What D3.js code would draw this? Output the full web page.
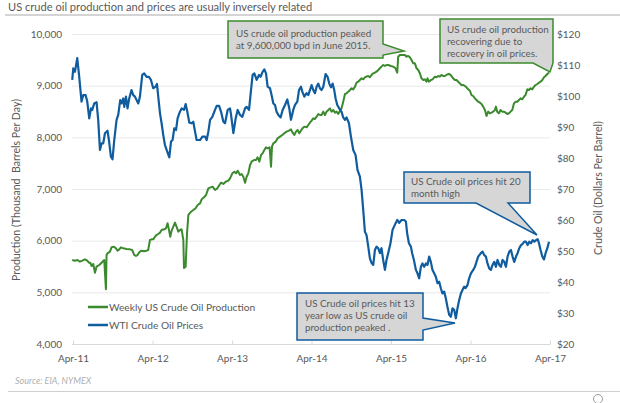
<!DOCTYPE html>
<html><head><meta charset="utf-8">
<script src="https://cdn.jsdelivr.net/npm/d3@7"></script>
<style>
html,body{margin:0;padding:0;background:#fff;}
svg{display:block;font-family:Lato,"Open Sans",sans-serif;}
</style></head>
<body><svg id="c" width="620" height="403"></svg>
<script>
// ---------- DATA (dates as decimal years) ----------
const priceDates = [
2011.237,2011.250,2011.271,2011.300,2011.325,2011.354,2011.376,2011.405,2011.426,2011.451,
2011.473,2011.489,2011.514,2011.543,2011.564,2011.586,2011.606,2011.627,2011.649,2011.681,
2011.699,2011.724,2011.744,2011.766,2011.795,2011.816,2011.841,2011.858,2011.879,2011.892,
2011.913,2011.933,2011.954,2011.983,2012.005,2012.026,2012.068,2012.089,2012.118,2012.143,
2012.172,2012.202,2012.227,2012.256,2012.285,2012.303,2012.319,2012.341,2012.361,2012.382,
2012.403,2012.424,2012.458,2012.479,2012.499,2012.520,2012.542,2012.562,2012.583,2012.612,
2012.642,2012.663,2012.684,2012.709,2012.738,2012.759,2012.781,2012.801,2012.844,2012.873,
2012.907,2012.927,2012.948,2012.970,2012.998,2013.032,2013.053,2013.083,2013.108,2013.137,
2013.158,2013.191,2013.221,2013.234,2013.263,2013.292,2013.317,2013.347,2013.376,2013.410,
2013.430,2013.460,2013.485,2013.505,2013.527,2013.556,2013.586,2013.606,2013.631,2013.653,
2013.674,2013.694,2013.724,2013.744,2013.766,2013.787,2013.807,2013.829,2013.858,2013.883,
2013.913,2013.942,2013.967,2013.988,2014.017,2014.039,2014.068,2014.089,2014.114,2014.131,
2014.156,2014.185,2014.206,2014.227,2014.248,2014.269,2014.290,2014.311,2014.332,2014.353,
2014.373,2014.395,2014.424,2014.449,2014.470,2014.492,2014.512,2014.533,2014.550,2014.571,
2014.596,2014.625,2014.646,2014.668,2014.688,2014.718,2014.743,2014.772,2014.801,2014.826,
2014.856,2014.877,2014.898,2014.919,2014.939,2014.961,2014.982,2015.002,2015.024,2015.045,
2015.065,2015.087,2015.108,2015.128,2015.149,2015.171,2015.191,2015.212,2015.241,2015.267,
2015.304,2015.326,2015.351,2015.380,2015.414,2015.435,2015.451,2015.473,2015.498,2015.514,
2015.536,2015.561,2015.581,2015.602,2015.624,2015.644,2015.665,2015.687,2015.707,2015.728,
2015.749,2015.770,2015.791,2015.812,2015.833,2015.854,2015.875,2015.895,2015.917,2015.938,
2015.958,2015.980,2016.001,2016.021,2016.043,2016.064,2016.084,2016.106,2016.127,2016.147,
2016.168,2016.185,2016.210,2016.231,2016.253,2016.282,2016.303,2016.323,2016.344,2016.378,
2016.399,2016.420,2016.441,2016.461,2016.483,2016.504,2016.524,2016.546,2016.567,2016.587,
2016.609,2016.630,2016.650,2016.672,2016.693,2016.713,2016.735,2016.756,2016.776,2016.797,
2016.819,2016.839,2016.860,2016.882,2016.902,2016.923,2016.944,2016.965,2016.986,2017.007,
2017.028,2017.049,2017.070,2017.091,2017.108,2017.128,2017.150,2017.171,2017.191,2017.213,
2017.234];
const priceValues = [
105.2,108.9,107.8,112.2,106.2,98.2,100.3,100.3,98.2,92.8,
96.0,95.5,97.6,98.0,92.3,82.6,84.7,84.7,88.0,88.8,
85.8,80.4,79.6,85.8,92.3,93.9,98.7,97.6,99.2,96.5,
99.8,96.0,99.2,101.9,100.3,99.8,97.6,99.8,106.8,107.3,
106.2,106.2,105.2,102.5,103.0,103.9,99.8,94.4,91.2,87.4,
84.2,82.6,80.2,85.3,85.8,89.6,89.0,92.8,94.4,96.0,
95.5,97.4,94.9,91.4,91.2,91.7,88.5,85.8,85.8,86.9,
86.9,85.8,88.5,92.3,93.3,95.5,96.8,96.8,94.9,91.7,
91.2,95.5,96.0,93.9,88.0,92.8,95.5,93.9,93.3,96.0,
96.5,95.5,101.9,106.8,107.3,105.2,106.8,106.2,107.8,108.6,
107.3,103.0,102.5,100.3,97.6,97.1,94.9,93.9,93.1,95.5,
97.1,98.9,96.0,92.3,95.5,97.1,98.2,101.9,103.0,101.4,
99.8,100.9,100.3,101.9,103.5,101.9,100.9,103.0,104.0,102.5,
101.9,103.0,107.1,106.2,104.0,102.8,104.0,101.9,99.2,97.1,
96.0,94.9,93.1,92.3,93.1,91.2,86.9,82.6,81.0,76.1,
74.0,69.7,63.2,56.2,55.2,51.4,47.6,46.2,45.5,50.3,
51.4,50.9,49.3,50.9,47.1,43.9,47.1,49.3,52.5,56.8,
58.9,60.0,59.1,60.0,60.0,59.5,55.7,52.5,51.4,49.3,
47.1,43.9,42.8,41.2,44.9,46.0,44.9,46.0,45.5,48.2,
46.5,43.9,42.8,41.7,39.6,40.1,38.0,36.3,36.9,34.7,
32.0,29.4,28.8,31.5,31.0,28.3,31.5,34.2,36.3,37.4,
38.5,38.0,39.0,41.2,42.8,43.9,44.9,46.5,48.2,49.3,
49.8,48.7,48.2,46.0,44.4,43.9,45.5,46.5,44.9,47.1,
45.5,44.9,47.1,46.5,44.9,48.2,49.8,50.3,48.2,46.5,
48.2,49.3,50.9,51.9,52.3,53.0,53.0,51.9,53.0,52.5,
53.5,53.0,53.5,53.8,52.5,50.3,48.2,47.3,49.3,50.9,
53.0];

const prodDates = [
2011.237,2011.271,2011.304,2011.334,2011.363,2011.397,2011.426,2011.447,2011.464,2011.480,
2011.502,2011.523,2011.543,2011.577,2011.606,2011.627,2011.640,2011.661,2011.669,2011.681,
2011.712,2011.732,2011.762,2011.787,2011.807,2011.829,2011.850,2011.879,2011.920,2011.963,
2011.992,2012.017,2012.039,2012.059,2012.080,2012.109,2012.139,2012.172,2012.193,2012.215,
2012.235,2012.256,2012.278,2012.298,2012.319,2012.341,2012.361,2012.395,2012.416,2012.436,
2012.454,2012.470,2012.487,2012.508,2012.529,2012.549,2012.571,2012.592,2012.612,2012.634,
2012.642,2012.663,2012.680,2012.697,2012.731,2012.759,2012.788,2012.814,2012.844,2012.864,
2012.894,2012.919,2012.948,2012.977,2013.002,2013.032,2013.061,2013.087,2013.108,2013.137,
2013.166,2013.200,2013.221,2013.250,2013.275,2013.297,2013.317,2013.347,2013.367,2013.388,
2013.410,2013.430,2013.451,2013.473,2013.493,2013.523,2013.548,2013.568,2013.590,2013.611,
2013.631,2013.653,2013.674,2013.694,2013.719,2013.737,2013.749,2013.766,2013.795,2013.820,
2013.850,2013.879,2013.904,2013.933,2013.963,2013.988,2014.009,2014.030,2014.051,2014.071,
2014.093,2014.114,2014.134,2014.156,2014.185,2014.206,2014.227,2014.248,2014.269,2014.290,
2014.311,2014.332,2014.353,2014.373,2014.395,2014.416,2014.436,2014.458,2014.479,2014.499,
2014.521,2014.542,2014.562,2014.583,2014.605,2014.625,2014.646,2014.668,2014.688,2014.709,
2014.731,2014.751,2014.772,2014.794,2014.814,2014.835,2014.856,2014.877,2014.898,2014.919,
2014.939,2014.961,2014.982,2015.002,2015.024,2015.045,2015.065,2015.087,2015.108,2015.128,
2015.149,2015.171,2015.191,2015.212,2015.246,2015.275,2015.304,2015.326,2015.338,2015.359,
2015.380,2015.401,2015.422,2015.443,2015.464,2015.485,2015.506,2015.527,2015.548,2015.569,
2015.590,2015.611,2015.631,2015.653,2015.674,2015.694,2015.707,2015.724,2015.750,2015.770,
2015.800,2015.820,2015.841,2015.863,2015.883,2015.904,2015.926,2015.946,2015.967,2015.988,
2016.009,2016.030,2016.051,2016.072,2016.093,2016.114,2016.134,2016.156,2016.177,2016.197,
2016.219,2016.240,2016.260,2016.282,2016.303,2016.323,2016.344,2016.366,2016.386,2016.407,
2016.429,2016.449,2016.470,2016.491,2016.512,2016.533,2016.554,2016.567,2016.583,2016.605,
2016.625,2016.646,2016.668,2016.688,2016.709,2016.731,2016.751,2016.772,2016.794,2016.814,
2016.835,2016.856,2016.876,2016.898,2016.919,2016.939,2016.961,2016.982,2017.002,2017.024,
2017.045,2017.066,2017.087,2017.108,2017.128,2017.150,2017.171,2017.191,2017.213,2017.234];
const prodValues = [
5626,5613,5626,5593,5613,5639,5613,5574,5574,5510,
5548,5380,5497,5529,5574,5606,5626,5059,5723,5755,
5787,5871,5884,5852,5806,5832,5871,5852,5839,5832,
5819,5723,5703,5723,5775,5806,5794,5806,5819,6013,
6026,6026,6077,6110,6129,6155,6206,6220,6239,6336,
6206,6077,6194,6271,6349,6271,6174,6206,6220,6013,
5470,5497,6142,6497,6561,6594,6626,6690,6723,6800,
6839,6884,7013,7032,7045,6981,7013,7077,7122,7097,
7141,7161,7207,7303,7335,7303,7354,7271,7290,7238,
7122,7238,7303,7464,7529,7561,7561,7614,7529,7658,
7690,7755,7807,7787,7807,7432,7819,7884,7916,7981,
8013,8045,8078,8110,8129,8155,8090,8045,8110,8142,
8078,8129,8175,8207,8194,8239,8284,8323,8368,8355,
8400,8452,8432,8432,8497,8432,8497,8529,8561,8497,
8529,8478,8497,8452,8516,8561,8690,8839,8852,8884,
8916,8949,8929,8981,9058,9077,9110,9142,9123,9162,
9174,9187,9162,9207,9239,9252,9271,9303,9336,9368,
9400,9381,9400,9400,9381,9368,9336,9252,9561,9594,
9594,9594,9594,9561,9574,9549,9497,9432,9432,9336,
9303,9239,9142,9110,9123,9077,9142,9077,9110,9123,
9174,9162,9187,9174,9207,9187,9187,9207,9226,9220,
9187,9142,9110,9110,9077,9045,9013,9013,8994,8968,
8929,8903,8819,8800,8755,8723,8690,8671,8645,8594,
8529,8413,8497,8465,8478,8497,8529,8594,8497,8465,
8529,8497,8497,8478,8452,8465,8497,8529,8658,8690,
8690,8723,8755,8736,8787,8819,8929,8916,8949,8929,
8981,9013,9032,9058,9077,9110,9162,9187,9226,9252];

const xTickYears = [2011,2012,2013,2014,2015,2016,2017];
const xTickLabels = ["Apr-11","Apr-12","Apr-13","Apr-14","Apr-15","Apr-16","Apr-17"];
const prodTicks = [4000,5000,6000,7000,8000,9000,10000];
const priceTicks = [20,30,40,50,60,70,80,90,100,110,120];
const seriesNames = ["Weekly US Crude Oil Production","WTI Crude Oil Prices"];

// ---------- DRAWING ----------
const GREEN = "#3b8a2e", BLUE = "#0f5c9f", TXT = "#595959";
const svg = d3.select("#c");
const decToDate = t => {
  const y = Math.floor(t), s = Date.UTC(y,0,1), e = Date.UTC(y+1,0,1);
  return new Date(s + (t - y) * (e - s));
};
const L = 72, R = 550, T = 34, B = 344;
const x = d3.scaleUtc().domain([new Date(Date.UTC(2011,3,1)), new Date(Date.UTC(2017,3,1))]).range([73, 550]);
const yP = d3.scaleLinear().domain([4000,10000]).range([B, T]);
const y$ = d3.scaleLinear().domain([20,120]).range([B, T]);

// title
svg.append("text").attr("x",8).attr("y",11).attr("font-size",11.1).attr("fill",TXT)
  .text("US crude oil production and prices are usually inversely related");
svg.append("line").attr("x1",5).attr("x2",620).attr("y1",15).attr("y2",15)
  .attr("stroke","#d4d4d4").attr("stroke-width",2);

// gridlines
svg.append("g").selectAll("line").data(prodTicks.slice(1)).join("line")
  .attr("x1",L).attr("x2",R).attr("y1",d=>yP(d)+0.5).attr("y2",d=>yP(d)+0.5)
  .attr("stroke","#e9e9e9").attr("stroke-width",1);

// x axis
const xTicks = xTickYears.map(yy => new Date(Date.UTC(yy,3,1)));
const xAxis = d3.axisBottom(x).tickValues(xTicks).tickSize(-4).tickPadding(10)
  .tickFormat((d,i)=>xTickLabels[i]);
const gx = svg.append("g").attr("transform",`translate(0,${B+0.5})`).call(xAxis);
gx.select(".domain").attr("d",`M${L},0H${R}`).attr("stroke","#d9d9d9");
gx.selectAll(".tick line").attr("stroke","#d9d9d9");
gx.selectAll("text").attr("font-size",10).attr("fill",TXT).attr("font-family","Lato");

// left axis
const gl = svg.append("g").attr("transform",`translate(${L},0)`)
  .call(d3.axisLeft(yP).tickValues(prodTicks).tickSize(0).tickPadding(10).tickFormat(d3.format(",")));
gl.select(".domain").remove();
gl.selectAll("text").attr("font-size",10).attr("fill",TXT).attr("font-family","Lato");

// right axis
const gr = svg.append("g").attr("transform",`translate(${R},0)`)
  .call(d3.axisRight(y$).tickValues(priceTicks).tickSize(0).tickPadding(7).tickFormat(d=>"$"+d));
gr.select(".domain").remove();
gr.selectAll("text").attr("font-size",10).attr("fill",TXT).attr("font-family","Lato");

// axis titles
svg.append("text").attr("transform","translate(20,190) rotate(-90)").attr("text-anchor","middle")
  .attr("font-size",10.6).attr("fill",TXT).style("white-space","pre")
  .text("Production (Thousand  Barrels Per Day)");
svg.append("text").attr("transform","translate(602,188) rotate(-90)").attr("text-anchor","middle")
  .attr("font-size",10.6).attr("fill",TXT)
  .text("Crude Oil (Dollars Per Barrel)");

// lines
const prodData = prodDates.map((t,i)=>({d:decToDate(t), v:prodValues[i]}));
const priceData = priceDates.map((t,i)=>({d:decToDate(t), v:priceValues[i]}));
svg.append("path").datum(prodData).attr("fill","none").attr("stroke",GREEN).attr("stroke-width",2)
  .attr("stroke-linejoin","round").attr("d",d3.line().x(d=>x(d.d)).y(d=>yP(d.v)));
svg.append("path").datum(priceData).attr("fill","none").attr("stroke",BLUE).attr("stroke-width",2.2)
  .attr("stroke-linejoin","round").attr("d",d3.line().x(d=>x(d.d)).y(d=>y$(d.v)));

// legend
const lg = svg.append("g");
seriesNames.forEach((n,i)=>{
  const yy = 307 + i*18;
  lg.append("line").attr("x1",88).attr("x2",108).attr("y1",yy).attr("y2",yy)
    .attr("stroke",[GREEN,BLUE][i]).attr("stroke-width",2.5);
  lg.append("text").attr("x",109).attr("y",yy).attr("dy","0.35em").attr("font-size",10.2)
    .attr("fill",TXT).text(n);
});

// callouts
const callouts = [
  {path:"M228,21H383V44L404,51L383,55V58H228Z", col:GREEN, x:236, y:[36.5,48.5],
   lines:["US crude oil production peaked","at 9,600,000 bpd in June 2015."]},
  {path:"M440,19H553V63L550,72L533,63H440Z", col:GREEN, x:447, y:[32.5,44.5,56.5],
   lines:["US crude oil production","recovering due to","recovery in oil prices."]},
  {path:"M404,172H530V203H508L537,235L476,203H404Z", col:BLUE, x:411, y:[184.5,197],
   lines:["US Crude oil prices hit 20","month high"]},
  {path:"M297,293H423V318L455,323L423,330V340H297Z", col:BLUE, x:305, y:[306.5,318.5,330.5],
   lines:["US Crude oil prices hit 13","year low as US crude oil","production peaked ."]}
];
callouts.forEach(c=>{
  svg.append("path").attr("d",c.path).attr("fill","#d6d6d6").attr("stroke",c.col).attr("stroke-width",1.5);
  c.lines.forEach((t,i)=>svg.append("text").attr("x",c.x).attr("y",c.y[i]).attr("font-size",9.8)
    .attr("fill",TXT).text(t));
});

// source + footer
svg.append("text").attr("x",15).attr("y",384).attr("font-size",9).attr("font-style","italic")
  .attr("fill","#b0b0b0").text("Source: EIA, NYMEX");
svg.append("line").attr("x1",8).attr("x2",620).attr("y1",391.5).attr("y2",391.5)
  .attr("stroke","#cfcfcf").attr("stroke-width",1.2);
svg.append("circle").attr("cx",598).attr("cy",399).attr("r",4.5).attr("fill","none")
  .attr("stroke","#9a9a9a").attr("stroke-width",1);
</script></body></html>
